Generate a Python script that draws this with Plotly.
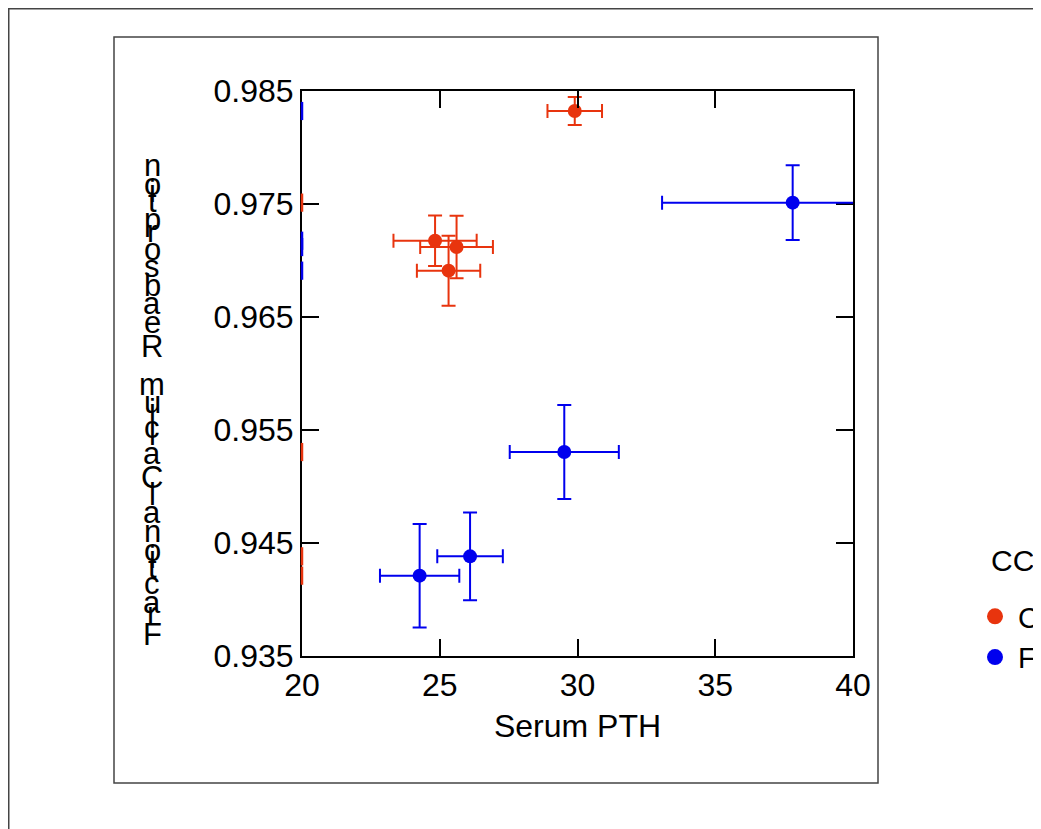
import plotly.graph_objects as go

# ---- data ----
groups = ["C", "F"]
c_x = [29.90, 24.83, 25.61, 25.32]
c_y = [0.98323, 0.97175, 0.97119, 0.96910]
c_xerr = [0.99, 1.51, 1.32, 1.15]
c_yerr = [0.00123, 0.00223, 0.00277, 0.00310]

f_x = [37.81, 29.52, 26.10, 24.27]
f_y = [0.97512, 0.95305, 0.94382, 0.94211]
f_xerr = [4.74, 1.98, 1.19, 1.44]
f_yerr = [0.00330, 0.00416, 0.00388, 0.00458]

x_range = [20, 40]
y_range = [0.935, 0.985]
x_ticks = [20, 25, 30, 35, 40]
y_ticks = [0.935, 0.945, 0.955, 0.965, 0.975, 0.985]
x_title = "Serum PTH"
y_title = "Fractional Calcium Reabsorption"
legend_title = "CC"

RED = "#E8340E"
BLUE = "#0000EE"
FONT = "Arial, Liberation Sans, Helvetica, sans-serif"

OFF = 8  # page body margin
W, H = 1041 - OFF, 829 - OFF
L, R, T, B = 302, 853, 91, 656  # plot area in page pixels


def px_x(p):
    return (p - L) / (R - L)


def px_y(p):
    return (B - p) / (B - T)


fig = go.Figure()

# rug marks along the left axis (colours as in reference)
fig.add_trace(go.Scatter(
    x=[x_range[0]] * len(f_y), y=f_y, mode="markers", showlegend=False,
    hoverinfo="skip", cliponaxis=False,
    marker=dict(symbol="line-ns", size=13, line=dict(width=2.5, color=RED), color=RED)))
fig.add_trace(go.Scatter(
    x=[x_range[0]] * len(c_y), y=c_y, mode="markers", showlegend=False,
    hoverinfo="skip", cliponaxis=False,
    marker=dict(symbol="line-ns", size=13, line=dict(width=2.5, color=BLUE), color=BLUE)))

for name, xs, ys, xe, ye, col in [
    (groups[0], c_x, c_y, c_xerr, c_yerr, RED),
    (groups[1], f_x, f_y, f_xerr, f_yerr, BLUE),
]:
    fig.add_trace(go.Scatter(
        x=xs, y=ys, mode="markers", name=name, legendgroup=name, showlegend=False,
        marker=dict(size=14, color=col),
        error_x=dict(type="data", array=xe, color=col, thickness=2, width=7),
        error_y=dict(type="data", array=ye, color=col, thickness=2, width=7),
    ))
    # legend entry (slightly larger symbol, as in reference)
    fig.add_trace(go.Scatter(
        x=[None], y=[None], mode="markers", name=name, legendgroup=name,
        marker=dict(size=17, color=col), hoverinfo="skip"))

axis_common = dict(
    showline=True, linecolor="black", linewidth=2, mirror="ticks",
    ticks="inside", ticklen=17, tickwidth=2, tickcolor="black",
    showgrid=False, zeroline=False,
    tickfont=dict(family=FONT, size=32, color="black"),
)

fig.update_layout(
    width=W, height=H,
    margin=dict(l=L - OFF, r=W - (R - OFF), t=T - OFF, b=H - (B - OFF), pad=0,
                autoexpand=False),
    paper_bgcolor="white", plot_bgcolor="white",
    xaxis=dict(range=x_range, tickvals=x_ticks, ticktext=[str(v) for v in x_ticks],
               title=dict(text=x_title, font=dict(family=FONT, size=32, color="black"), standoff=12),
               **axis_common),
    yaxis=dict(range=y_range, tickvals=y_ticks, ticktext=[f"{v:.3f}" for v in y_ticks],
               layer="below traces", **axis_common),
    showlegend=True,
    legend=dict(xref="container", yref="container",
                x=(972 - OFF) / W, y=1 - (591 - OFF) / H, xanchor="left", yanchor="top",
                font=dict(family=FONT, size=29, color="black"),
                itemwidth=36, tracegroupgap=0,
                bgcolor="rgba(0,0,0,0)"),
)

# legend title
fig.add_annotation(text=legend_title, xref="paper", yref="paper",
                   x=px_x(989), y=px_y(560), xanchor="left", yanchor="middle",
                   showarrow=False, font=dict(family=FONT, size=30, color="black"))

# frames
fig.add_shape(type="rect", xref="paper", yref="paper",
              x0=px_x(OFF + 0.75), x1=px_x(1200), y0=px_y(900), y1=px_y(OFF + 0.75),
              line=dict(color="#444444", width=1.5), layer="below")
fig.add_shape(type="rect", xref="paper", yref="paper",
              x0=px_x(114), x1=px_x(878), y0=px_y(783), y1=px_y(37),
              line=dict(color="#444444", width=1.5), layer="below")

# y title: upright glyphs stacked along a rotated baseline (reads bottom to top)
adv = {"F": 611, "r": 333, "a": 556, "c": 500, "t": 278, "i": 222, "o": 556,
       "n": 556, "l": 222, " ": 278, "C": 722, "u": 556, "m": 833, "R": 722,
       "e": 556, "b": 556, "s": 500, "p": 556}
scale = 0.0336
base0 = 645
title_size = 31
cum = 0
for ch in y_title:
    if ch != " ":
        baseline = base0 - cum * scale
        fig.add_annotation(text=ch, xref="paper", yref="paper",
                           x=px_x(152), y=px_y(baseline - 0.345 * title_size),
                           xanchor="center", yanchor="middle", showarrow=False,
                           font=dict(family=FONT, size=title_size, color="black"))
    cum += adv[ch]

fig.write_html("out.html")
